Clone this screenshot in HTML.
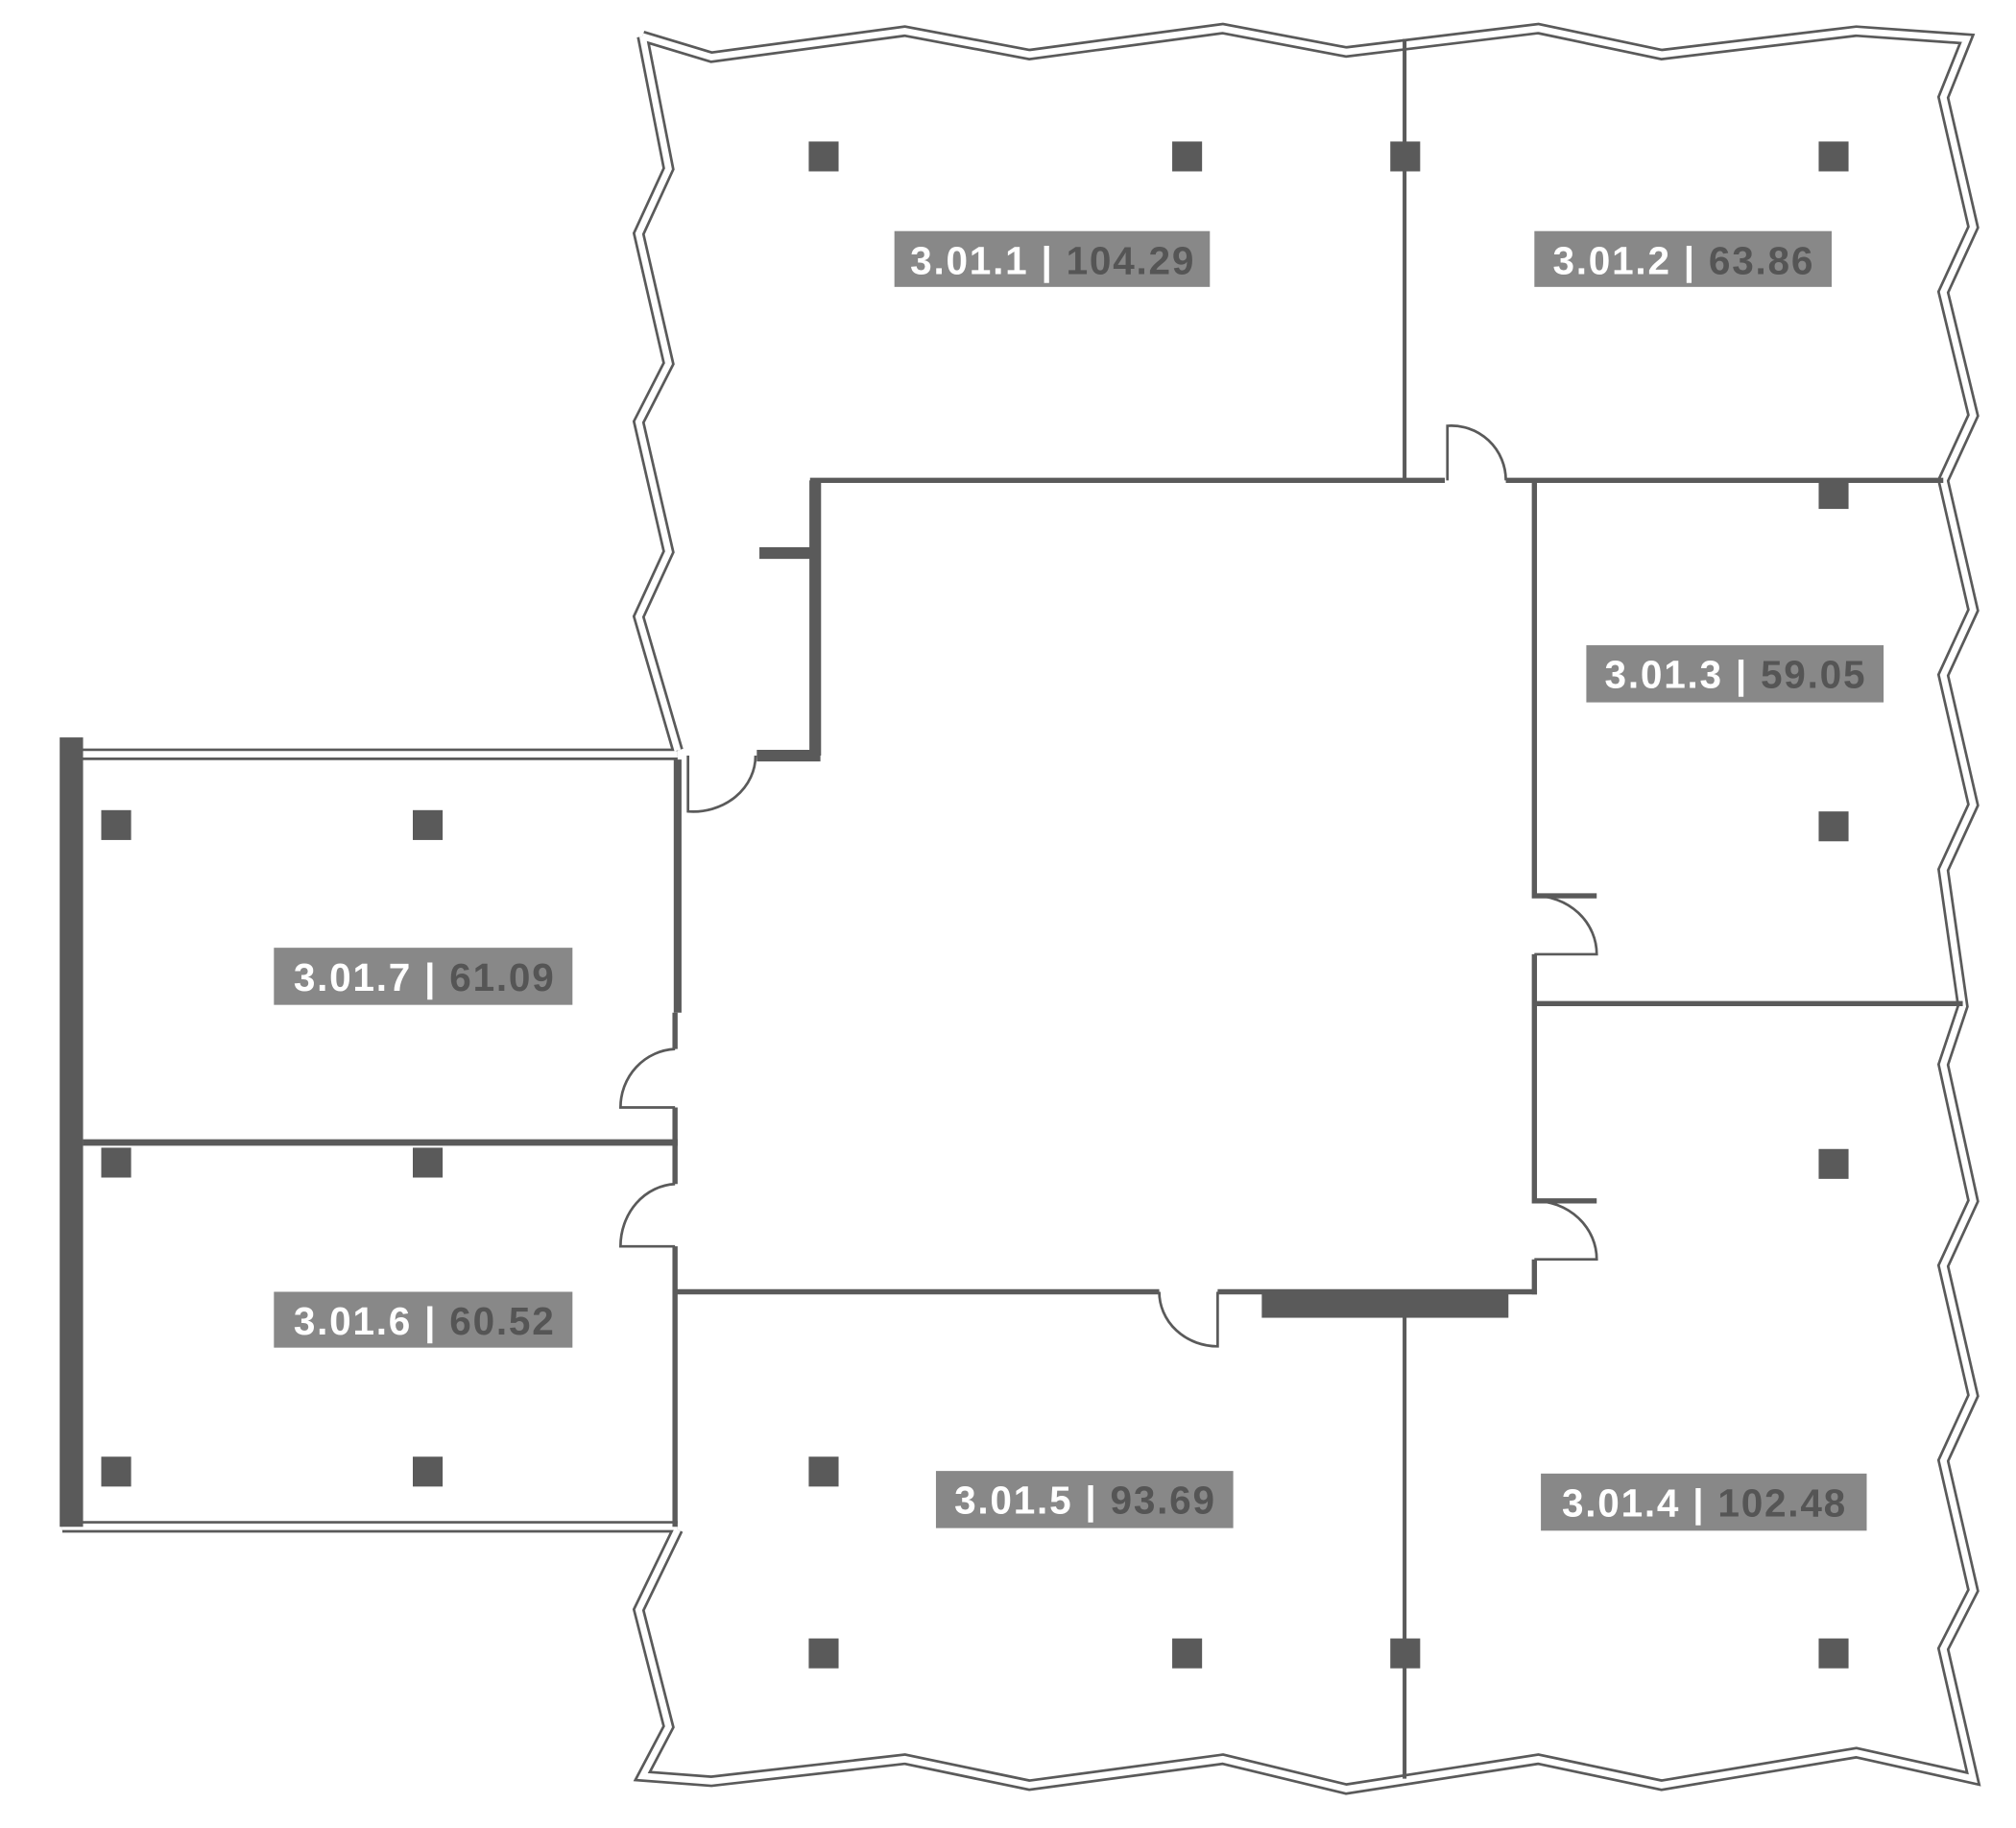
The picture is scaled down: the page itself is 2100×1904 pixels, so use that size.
<!DOCTYPE html>
<html><head><style>html,body{margin:0;padding:0;background:#fff}svg{display:block}</style></head>
<body>
<svg width="2100" height="1904" viewBox="0 0 1553 1408" preserveAspectRatio="none" xmlns="http://www.w3.org/2000/svg">
<g fill="none" stroke-linejoin="miter">
<path d="M495,28 L548,44 L697,24 L793,42 L942,22 L1037,40 L1185,22 L1280,42 L1430,24 L1515,30 L1497,75 L1520,175 L1497,225 L1520,320 L1497,370 L1520,470 L1497,520 L1520,620 L1497,670 L1512,775 L1497,820 L1520,925 L1497,975 L1520,1075 L1497,1125 L1520,1225 L1497,1270 L1520,1370 L1430,1350 L1280,1375 L1185,1355 L1037,1378 L942,1355 L793,1375 L697,1355 L548,1372 L495,1368 L515,1330 L492,1240 L522,1178 M522,578 L492,475 L515,425 L492,325 L515,280 L492,180 L515,130 L495,28 M48,581 L522,581 M48,1176 L522,1176" stroke="#5a5a5a" stroke-width="9"/>
<path d="M495,28 L548,44 L697,24 L793,42 L942,22 L1037,40 L1185,22 L1280,42 L1430,24 L1515,30 L1497,75 L1520,175 L1497,225 L1520,320 L1497,370 L1520,470 L1497,520 L1520,620 L1497,670 L1512,775 L1497,820 L1520,925 L1497,975 L1520,1075 L1497,1125 L1520,1225 L1497,1270 L1520,1370 L1430,1350 L1280,1375 L1185,1355 L1037,1378 L942,1355 L793,1375 L697,1355 L548,1372 L495,1368 L515,1330 L492,1240 L522,1178 M522,578 L492,475 L515,425 L492,325 L515,280 L492,180 L515,130 L495,28 M48,581 L522,581 M48,1176 L522,1176" stroke="#fff" stroke-width="5"/>
</g>
<g stroke="#5a5a5a" fill="none">
<path d="M628,370 L628,582 M585,426 L628,426 M583,582 L632,582" stroke-width="9"/>
<path d="M624,370 L1113,370 M1160,370 L1497,370" stroke-width="4"/>
<path d="M1082,30 L1082,370 M1082,1015 L1082,1370" stroke-width="3"/>
<path d="M1115,370 L1115,328 A42,42 0 0 1 1160,370" stroke-width="2"/>
<path d="M1182,370 L1182,690 L1230,690 M1182,735 L1182,925 L1230,925 M1182,970 L1182,997 M1182,773 L1512,773" stroke-width="4"/>
<path d="M1182,690 A48,45 0 0 1 1230,735 L1182,735 M1182,925 A48,45 0 0 1 1230,970 L1182,970" stroke-width="2"/>
<path d="M520,995 L893,995 M938,995 L1184,995" stroke-width="4"/>
<path d="M893,995 A45,42 0 0 0 938,1037 L938,995" stroke-width="2"/>
<path d="M522,585 L522,780" stroke-width="6"/>
<path d="M520,780 L520,808 M520,853 L520,912 M520,960 L520,1176" stroke-width="4"/>
<path d="M520,808 A44,45 0 0 0 478,853 L520,853 M520,912 A44,48 0 0 0 478,960 L520,960" stroke-width="2"/>
<path d="M530,582 L530,625 A48,43 0 0 0 582,582" stroke-width="2"/>
<path d="M64,880 L522,880" stroke-width="5"/>
</g>
<g fill="#5a5a5a">
<rect x="46" y="568" width="18" height="608"/>
<rect x="972" y="995" width="190" height="20"/>
<rect x="623" y="109" width="23" height="23"/><rect x="903" y="109" width="23" height="23"/><rect x="1071" y="109" width="23" height="23"/><rect x="1401" y="109" width="23" height="23"/>
<rect x="1401" y="370" width="23" height="22"/><rect x="1401" y="625" width="23" height="23"/><rect x="1401" y="885" width="23" height="23"/><rect x="1401" y="1262" width="23" height="23"/>
<rect x="1071" y="1262" width="23" height="23"/><rect x="903" y="1262" width="23" height="23"/><rect x="623" y="1262" width="23" height="23"/><rect x="623" y="1122" width="23" height="23"/>
<rect x="78" y="624" width="23" height="23"/><rect x="318" y="624" width="23" height="23"/><rect x="78" y="884" width="23" height="23"/><rect x="318" y="884" width="23" height="23"/>
<rect x="78" y="1122" width="23" height="23"/><rect x="318" y="1122" width="23" height="23"/>
</g>
<g font-family="Liberation Sans, sans-serif" font-weight="bold" font-size="30" letter-spacing="1.3" text-anchor="middle">
<rect x="689" y="178" width="243" height="43" fill="#888"/>
<text x="811" y="211" fill="#fff">3.01.1 | <tspan fill="#555">104.29</tspan></text>
<rect x="1182" y="178" width="229" height="43" fill="#888"/>
<text x="1297" y="211" fill="#fff">3.01.2 | <tspan fill="#555">63.86</tspan></text>
<rect x="1222" y="497" width="229" height="44" fill="#888"/>
<text x="1337" y="530" fill="#fff">3.01.3 | <tspan fill="#555">59.05</tspan></text>
<rect x="211" y="730" width="230" height="44" fill="#888"/>
<text x="327" y="763" fill="#fff">3.01.7 | <tspan fill="#555">61.09</tspan></text>
<rect x="211" y="995" width="230" height="43" fill="#888"/>
<text x="327" y="1028" fill="#fff">3.01.6 | <tspan fill="#555">60.52</tspan></text>
<rect x="721" y="1133" width="229" height="44" fill="#888"/>
<text x="836" y="1166" fill="#fff">3.01.5 | <tspan fill="#555">93.69</tspan></text>
<rect x="1187" y="1135" width="251" height="44" fill="#888"/>
<text x="1313" y="1168" fill="#fff">3.01.4 | <tspan fill="#555">102.48</tspan></text>
</g>
</svg>
</body></html>
